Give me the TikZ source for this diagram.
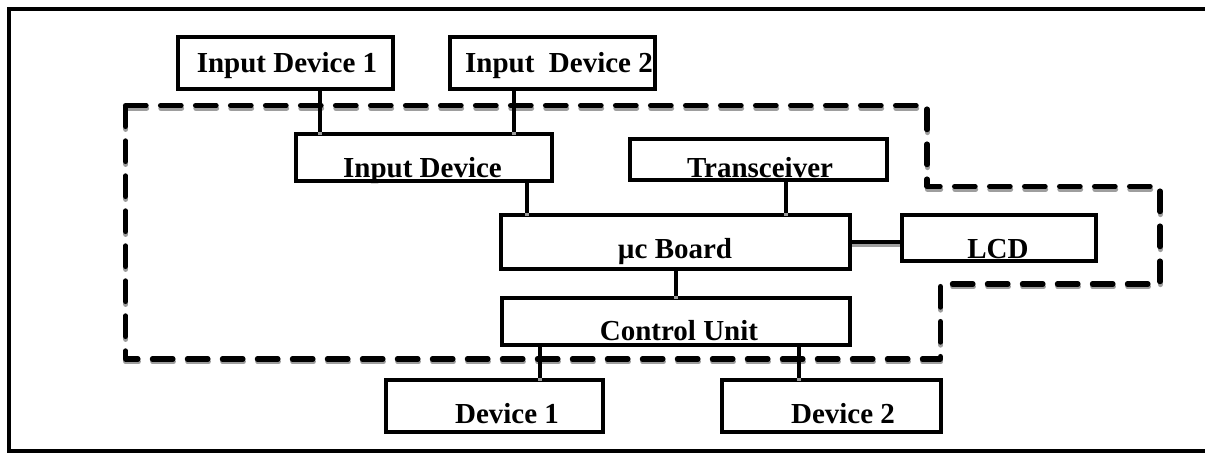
\documentclass[tikz,border=0pt]{standalone}
\usepackage{fontspec}
\setmainfont{Liberation Serif}
\tikzset{
  box/.style={draw, line width=3pt, rectangle, inner sep=0pt},
  lbl/.style={anchor=base, inner sep=0pt, font=\bfseries\fontsize{21.75pt}{26pt}\selectfont},
  wire/.style={line width=3pt},
  shadowwire/.style={line width=3pt, draw=black!38},
  boundary/.style={line width=3.8pt, line cap=round, line join=round, dash pattern=on 15.5pt off 10.75pt},
  frame/.style={line width=3pt}
}
\begin{document}
\begin{tikzpicture}[x=0.75pt,y=-0.75pt]
\useasboundingbox (0,0) rectangle (1205,453);
% outer frame (open on the right)
\draw[frame] (1210,9.3) -- (9.3,9.3) -- (9.3,450.5) -- (1210,450.5);
% dashed boundary corners
\coordinate (b1) at (125.5,105.5);
\coordinate (b2) at (927,105.5);
\coordinate (b3) at (927,186.5);
\coordinate (b4) at (1160,186.5);
\coordinate (b5) at (1160,284);
\coordinate (b6) at (940.5,284);
\coordinate (b7) at (940.5,359);
\coordinate (b8) at (125.5,359);
\begin{scope}[transform canvas={xshift=0.3pt,yshift=-2.2pt}]
\draw[boundary, draw=black!38] (b1) -- (b2) -- (b3) -- (b4) -- (b5) -- (b6) -- (b7) -- (b8) -- cycle;
\end{scope}
\draw[boundary] (b1) -- (b2) -- (b3) -- (b4) -- (b5) -- (b6) -- (b7) -- (b8) -- cycle;
% boxes
\node[box, minimum width=161.25pt, minimum height=39pt] (id1) at (285.5,63) {};
\node[box, minimum width=153.4pt, minimum height=39pt] (id2) at (552.75,63) {};
\node[box, minimum width=192pt, minimum height=34.9pt] (idev) at (423.5,157.25) {};
\node[box, minimum width=192.4pt, minimum height=31.1pt] (trans) at (758.75,159.75) {};
\node[box, minimum width=261.75pt, minimum height=40.5pt] (board) at (675.5,242) {};
\node[box, minimum width=145.5pt, minimum height=34.5pt] (lcd) at (999,238) {};
\node[box, minimum width=261pt, minimum height=34.9pt] (ctrl) at (676,321.75) {};
\node[box, minimum width=163.1pt, minimum height=39pt] (dev1) at (494.25,406) {};
\node[box, minimum width=164.25pt, minimum height=39pt] (dev2) at (831,406) {};
% connector x positions
\coordinate (c1) at (319.5,0);
\coordinate (c2) at (514,0);
\coordinate (c3) at (527,0);
\coordinate (c4) at (786,0);
\coordinate (c5) at (676,0);
\coordinate (c6) at (540,0);
\coordinate (c7) at (799,0);
\coordinate (c8) at (0,242);
% connector shadows
\begin{scope}[transform canvas={xshift=0.3pt,yshift=-2.2pt}]
\draw[shadowwire] (id1.south -| c1) -- (idev.north -| c1);
\draw[shadowwire] (id2.south -| c2) -- (idev.north -| c2);
\draw[shadowwire] (idev.south -| c3) -- (board.north -| c3);
\draw[shadowwire] (trans.south -| c4) -- (board.north -| c4);
\draw[shadowwire] (board.south -| c5) -- (ctrl.north -| c5);
\draw[shadowwire] (ctrl.south -| c6) -- (dev1.north -| c6);
\draw[shadowwire] (ctrl.south -| c7) -- (dev2.north -| c7);
\draw[shadowwire] (board.east |- c8) -- (lcd.west |- c8);
\end{scope}
% connectors
\draw[wire] (id1.south -| c1) -- (idev.north -| c1);
\draw[wire] (id2.south -| c2) -- (idev.north -| c2);
\draw[wire] (idev.south -| c3) -- (board.north -| c3);
\draw[wire] (trans.south -| c4) -- (board.north -| c4);
\draw[wire] (board.south -| c5) -- (ctrl.north -| c5);
\draw[wire] (ctrl.south -| c6) -- (dev1.north -| c6);
\draw[wire] (ctrl.south -| c7) -- (dev2.north -| c7);
\draw[wire] (board.east |- c8) -- (lcd.west |- c8);
% labels
\node[lbl] (tid1) at (287,73) {Input Device 1};
\node[lbl] (tid2) at (559,73) {Input\ \ Device 2};
\node[lbl] (tidev) at (422.5,177) {Input Device};
\node[lbl] (ttrans) at (760,177) {Transceiver};
\node[lbl] (tboard) at (675,258) {µc Board};
\node[lbl] (tlcd) at (998,258) {LCD};
\node[lbl] (tctrl) at (679,340) {Control Unit};
\node[lbl] (tdev1) at (507,423) {Device 1};
\node[lbl] (tdev2) at (843,423) {Device 2};
\end{tikzpicture}
\end{document}
